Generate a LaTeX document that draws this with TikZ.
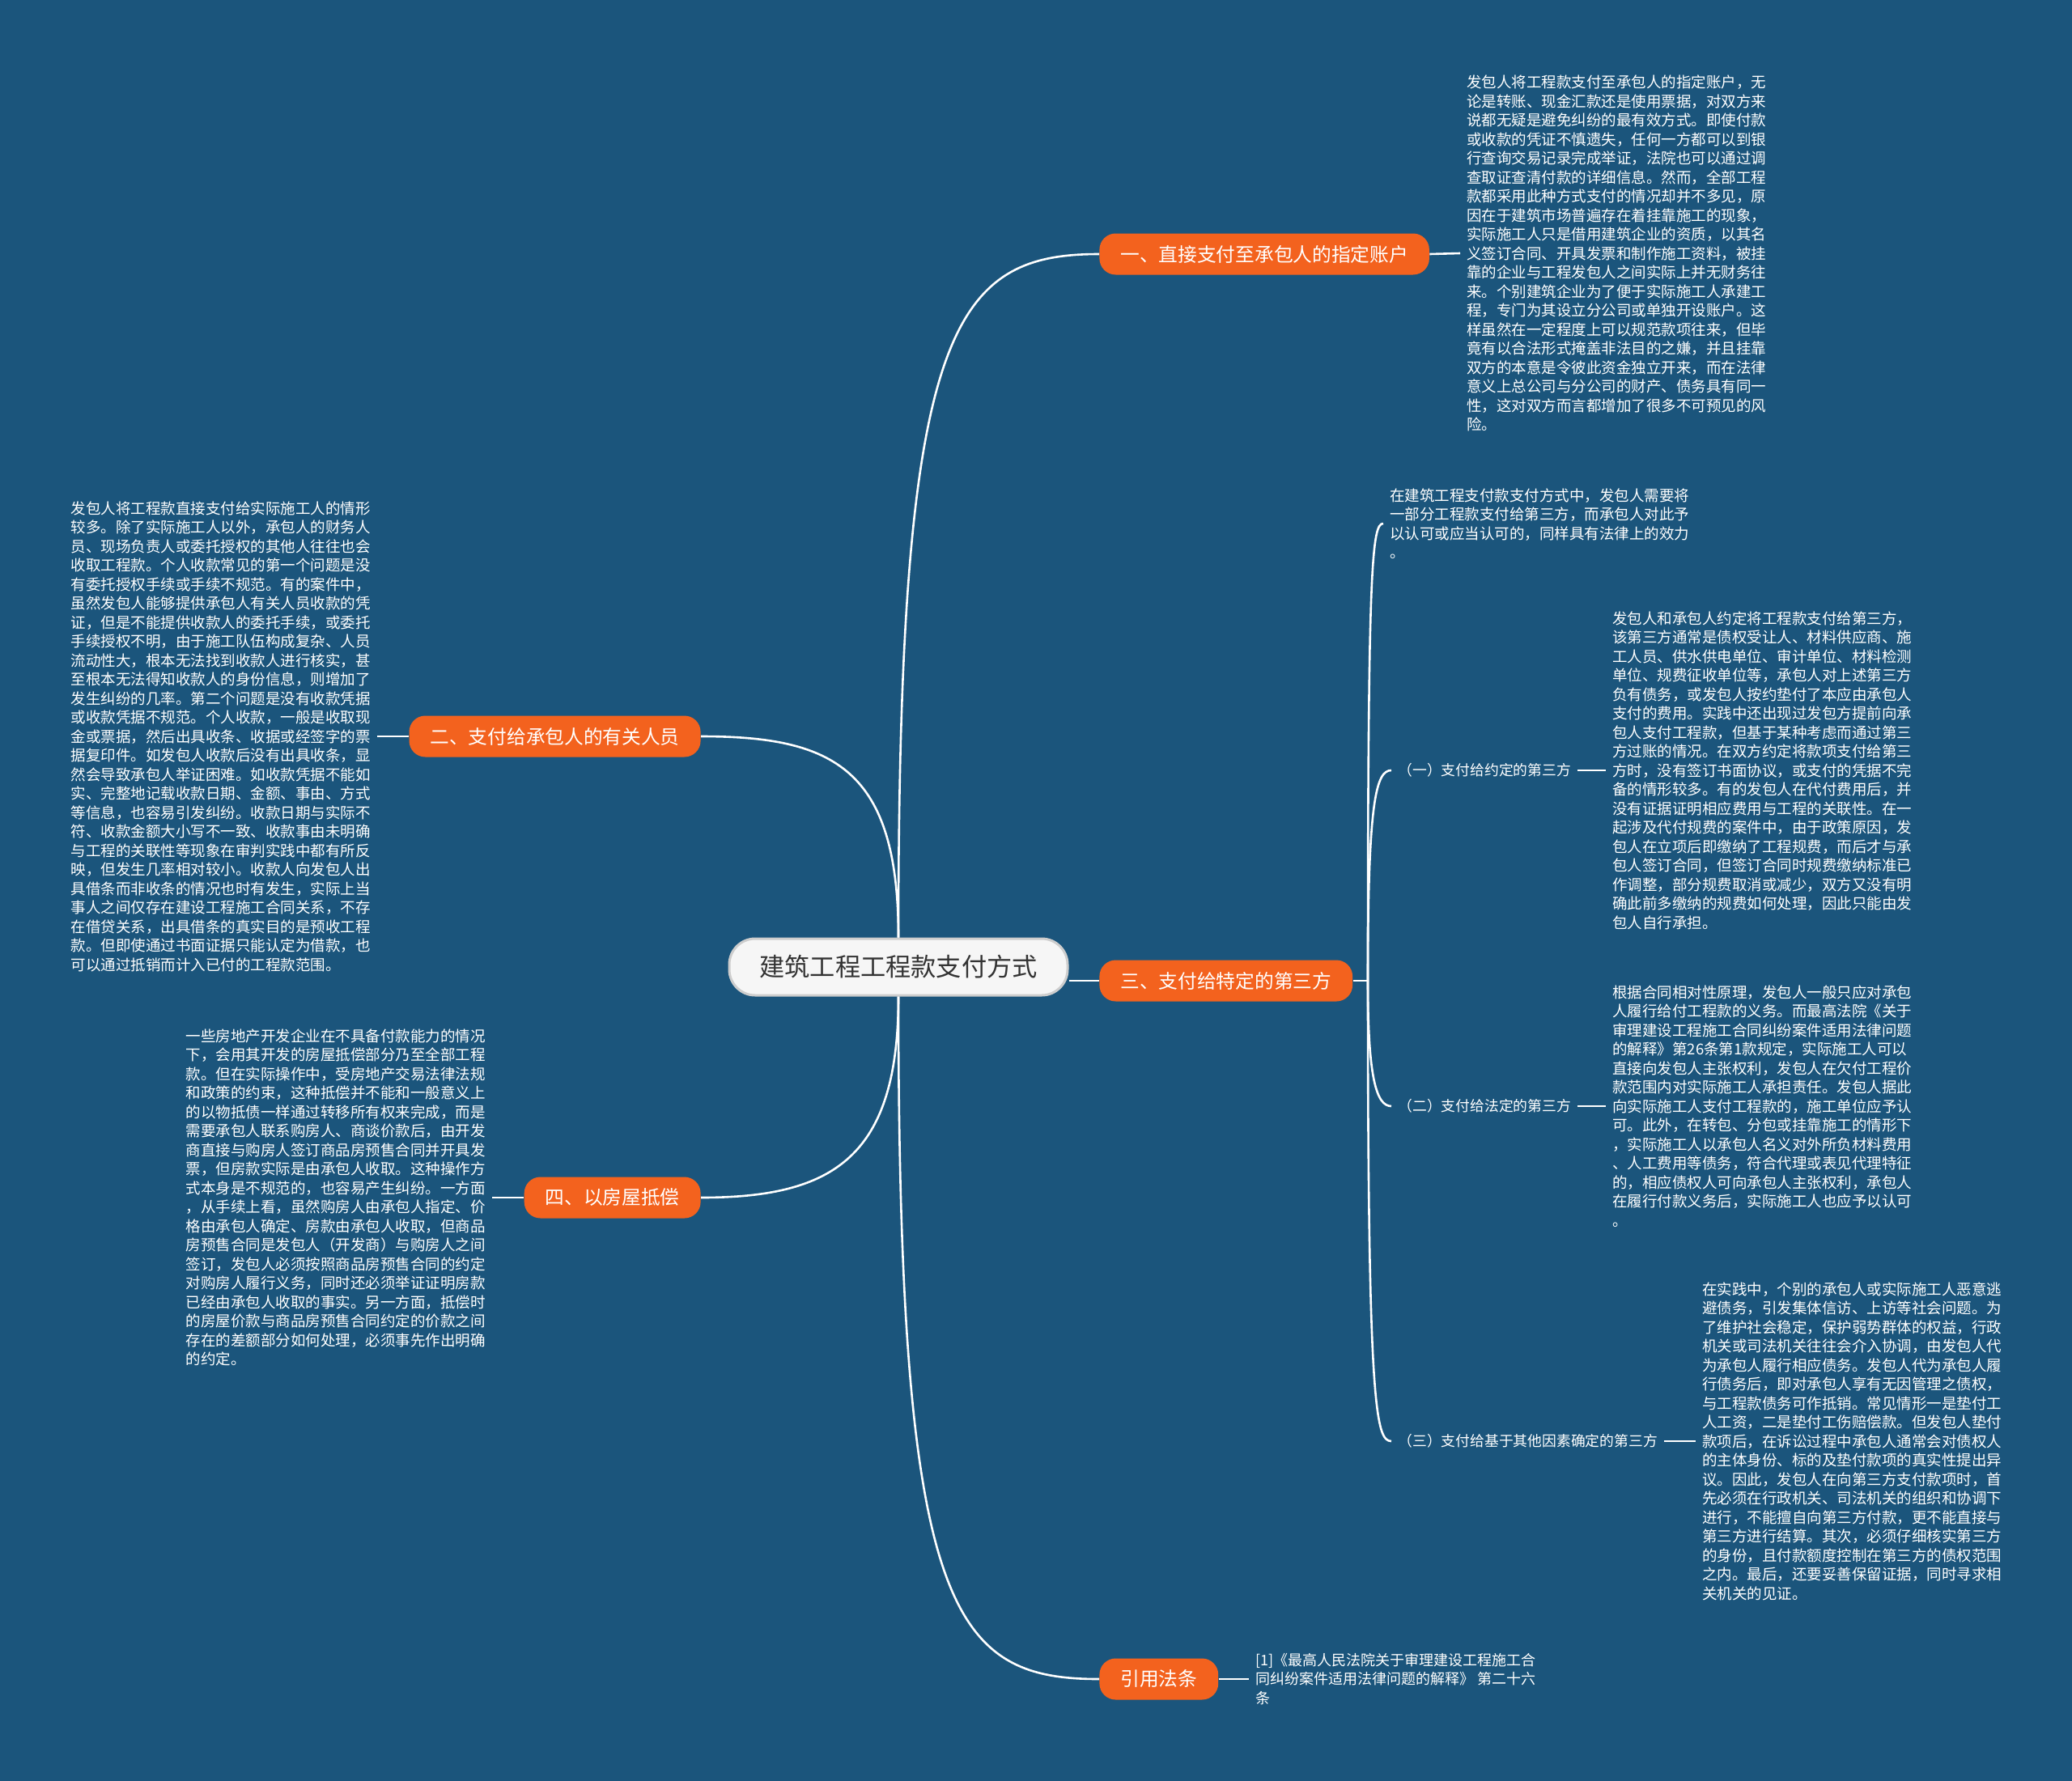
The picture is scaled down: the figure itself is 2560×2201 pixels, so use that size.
\documentclass[tikz,border=0pt]{standalone}
\usepackage{fontspec}
\setmainfont{Noto Sans CJK SC}
\usetikzlibrary{calc}

\definecolor{mapblue}{RGB}{27,85,124}
\definecolor{maporange}{RGB}{243,98,30}
\definecolor{rootfill}{RGB}{246,246,246}
\definecolor{rootline}{RGB}{205,205,205}
\definecolor{roottext}{RGB}{51,51,51}

\tikzset{
  root/.style={draw=rootline, line width=1.5pt, fill=rootfill, rounded corners=16pt,
    minimum width=209pt, minimum height=35pt, text=roottext,
    font=\fontsize{15.6}{18}\selectfont},
  branch/.style={fill=maporange, rounded corners=10pt, minimum height=25.5pt,
    inner xsep=13pt, inner ysep=0pt, text=white, font=\fontsize{11.85}{14}\selectfont},
  leaf/.style={text=white, align=left, inner sep=4pt,
    font=\fontsize{9.25}{11.75}\selectfont},
  sublabel/.style={text=white, inner sep=4pt, font=\fontsize{8.9}{11}\selectfont},
  link/.style={draw=white, line width=1.3pt},
}

\begin{document}
\begin{tikzpicture}[x=0.5pt, y=-0.5pt]
    \def\midx{1110}
    \def\rightx{1358}
    \def\leftx{866}

    \fill[mapblue] (0,0) rectangle (2560,2201);

    \node[root] (root) at (\midx, 1195) {建筑工程工程款支付方式};

    \node[branch, anchor=west] (direct) at (\rightx, 314) {一、直接支付至承包人的指定账户};
    \node[branch, anchor=east] (staff) at (\leftx, 910) {二、支付给承包人的有关人员};
    \node[branch, anchor=west] (third) at (\rightx, 1212) {三、支付给特定的第三方};
    \node[branch, anchor=east] (house) at (\leftx, 1480) {四、以房屋抵偿};
    \node[branch, anchor=west] (cite) at (\rightx, 2075) {引用法条};

    \node[leaf, anchor=west] (directtxt) at (1804, 313) {发包人将工程款支付至承包人的指定账户，无\\
论是转账、现金汇款还是使用票据，对双方来\\
说都无疑是避免纠纷的最有效方式。即使付款\\
或收款的凭证不慎遗失，任何一方都可以到银\\
行查询交易记录完成举证，法院也可以通过调\\
查取证查清付款的详细信息。然而，全部工程\\
款都采用此种方式支付的情况却并不多见，原\\
因在于建筑市场普遍存在着挂靠施工的现象，\\
实际施工人只是借用建筑企业的资质，以其名\\
义签订合同、开具发票和制作施工资料，被挂\\
靠的企业与工程发包人之间实际上并无财务往\\
来。个别建筑企业为了便于实际施工人承建工\\
程，专门为其设立分公司或单独开设账户。这\\
样虽然在一定程度上可以规范款项往来，但毕\\
竟有以合法形式掩盖非法目的之嫌，并且挂靠\\
双方的本意是令彼此资金独立开来，而在法律\\
意义上总公司与分公司的财产、债务具有同一\\
性，这对双方而言都增加了很多不可预见的风\\
险。};

    \node[leaf, anchor=east] (stafftxt) at (466, 910) {发包人将工程款直接支付给实际施工人的情形\\
较多。除了实际施工人以外，承包人的财务人\\
员、现场负责人或委托授权的其他人往往也会\\
收取工程款。个人收款常见的第一个问题是没\\
有委托授权手续或手续不规范。有的案件中，\\
虽然发包人能够提供承包人有关人员收款的凭\\
证，但是不能提供收款人的委托手续，或委托\\
手续授权不明，由于施工队伍构成复杂、人员\\
流动性大，根本无法找到收款人进行核实，甚\\
至根本无法得知收款人的身份信息，则增加了\\
发生纠纷的几率。第二个问题是没有收款凭据\\
或收款凭据不规范。个人收款，一般是收取现\\
金或票据，然后出具收条、收据或经签字的票\\
据复印件。如发包人收款后没有出具收条，显\\
然会导致承包人举证困难。如收款凭据不能如\\
实、完整地记载收款日期、金额、事由、方式\\
等信息，也容易引发纠纷。收款日期与实际不\\
符、收款金额大小写不一致、收款事由未明确\\
与工程的关联性等现象在审判实践中都有所反\\
映，但发生几率相对较小。收款人向发包人出\\
具借条而非收条的情况也时有发生，实际上当\\
事人之间仅存在建设工程施工合同关系，不存\\
在借贷关系，出具借条的真实目的是预收工程\\
款。但即使通过书面证据只能认定为借款，也\\
可以通过抵销而计入已付的工程款范围。};

    \node[leaf, anchor=east] (housetxt) at (608, 1480) {一些房地产开发企业在不具备付款能力的情况\\
下，会用其开发的房屋抵偿部分乃至全部工程\\
款。但在实际操作中，受房地产交易法律法规\\
和政策的约束，这种抵偿并不能和一般意义上\\
的以物抵债一样通过转移所有权来完成，而是\\
需要承包人联系购房人、商谈价款后，由开发\\
商直接与购房人签订商品房预售合同并开具发\\
票，但房款实际是由承包人收取。这种操作方\\
式本身是不规范的，也容易产生纠纷。一方面\\
，从手续上看，虽然购房人由承包人指定、价\\
格由承包人确定、房款由承包人收取，但商品\\
房预售合同是发包人（开发商）与购房人之间\\
签订，发包人必须按照商品房预售合同的约定\\
对购房人履行义务，同时还必须举证证明房款\\
已经由承包人收取的事实。另一方面，抵偿时\\
的房屋价款与商品房预售合同约定的价款之间\\
存在的差额部分如何处理，必须事先作出明确\\
的约定。};

    \node[leaf, anchor=west, font=\fontsize{9}{11.75}\selectfont] (citetxt) at (1543, 2075) {[1]《最高人民法院关于审理建设工程施工合\\
同纠纷案件适用法律问题的解释》 第二十六\\
条};

    % third party sub tree
    \coordinate (fork) at (1690, 1212);
    \node[leaf, anchor=west] (thirdtxt) at (1709, 647) {在建筑工程支付款支付方式中，发包人需要将\\
一部分工程款支付给第三方，而承包人对此予\\
以认可或应当认可的，同样具有法律上的效力\\
。};
    \node[sublabel, anchor=west] (agreed) at (1719, 952) {（一）支付给约定的第三方};
    \node[sublabel, anchor=west] (legal) at (1719, 1367) {（二）支付给法定的第三方};
    \node[sublabel, anchor=west] (other) at (1719, 1781) {（三）支付给基于其他因素确定的第三方};

    \node[leaf, anchor=west] (agreedtxt) at (1984, 952) {发包人和承包人约定将工程款支付给第三方，\\
该第三方通常是债权受让人、材料供应商、施\\
工人员、供水供电单位、审计单位、材料检测\\
单位、规费征收单位等，承包人对上述第三方\\
负有债务，或发包人按约垫付了本应由承包人\\
支付的费用。实践中还出现过发包方提前向承\\
包人支付工程款，但基于某种考虑而通过第三\\
方过账的情况。在双方约定将款项支付给第三\\
方时，没有签订书面协议，或支付的凭据不完\\
备的情形较多。有的发包人在代付费用后，并\\
没有证据证明相应费用与工程的关联性。在一\\
起涉及代付规费的案件中，由于政策原因，发\\
包人在立项后即缴纳了工程规费，而后才与承\\
包人签订合同，但签订合同时规费缴纳标准已\\
作调整，部分规费取消或减少，双方又没有明\\
确此前多缴纳的规费如何处理，因此只能由发\\
包人自行承担。};

    \node[leaf, anchor=west] (legaltxt) at (1984, 1367) {根据合同相对性原理，发包人一般只应对承包\\
人履行给付工程款的义务。而最高法院《关于\\
审理建设工程施工合同纠纷案件适用法律问题\\
的解释》第26条第1款规定，实际施工人可以\\
直接向发包人主张权利，发包人在欠付工程价\\
款范围内对实际施工人承担责任。发包人据此\\
向实际施工人支付工程款的，施工单位应予认\\
可。此外，在转包、分包或挂靠施工的情形下\\
，实际施工人以承包人名义对外所负材料费用\\
、人工费用等债务，符合代理或表见代理特征\\
的，相应债权人可向承包人主张权利，承包人\\
在履行付款义务后，实际施工人也应予以认可\\
。};

    \node[leaf, anchor=west] (othertxt) at (2095, 1781) {在实践中，个别的承包人或实际施工人恶意逃\\
避债务，引发集体信访、上访等社会问题。为\\
了维护社会稳定，保护弱势群体的权益，行政\\
机关或司法机关往往会介入协调，由发包人代\\
为承包人履行相应债务。发包人代为承包人履\\
行债务后，即对承包人享有无因管理之债权，\\
与工程款债务可作抵销。常见情形一是垫付工\\
人工资，二是垫付工伤赔偿款。但发包人垫付\\
款项后，在诉讼过程中承包人通常会对债权人\\
的主体身份、标的及垫付款项的真实性提出异\\
议。因此，发包人在向第三方支付款项时，首\\
先必须在行政机关、司法机关的组织和协调下\\
进行，不能擅自向第三方付款，更不能直接与\\
第三方进行结算。其次，必须仔细核实第三方\\
的身份，且付款额度控制在第三方的债权范围\\
之内。最后，还要妥善保留证据，同时寻求相\\
关机关的见证。};

    % connectors
    \draw[link] (root.north) .. controls (\midx, 408) and (1175, 314) .. (direct.west);
    \draw[link] (root.north) .. controls (\midx, 950) and (1030, 910) .. (staff.east);
    \draw[link] (third.west -| root.east) -- (third.west);
    \draw[link] (root.south) .. controls (\midx, 1430) and (1030, 1480) .. (house.east);
    \draw[link] (root.south) .. controls (\midx, 1990) and (1175, 2075) .. (cite.west);

    \draw[link] (direct.east) -- (directtxt.west);
    \draw[link] (staff.west) -- (stafftxt.east);
    \draw[link] (house.west) -- (housetxt.east);
    \draw[link] (cite.east) -- (citetxt.west);

    \draw[link] (third.east) -- (fork);
    \draw[link] (fork) .. controls (1690, 700) and (1695, 647) .. (thirdtxt.west);
    \draw[link] (fork) .. controls (1690, 990) and (1700, 952) .. (agreed.west);
    \draw[link] (fork) .. controls (1690, 1330) and (1700, 1367) .. (legal.west);
    \draw[link] (fork) .. controls (1690, 1740) and (1700, 1781) .. (other.west);
    \draw[link] (agreed.east) -- (agreedtxt.west);
    \draw[link] (legal.east) -- (legaltxt.west);
    \draw[link] (other.east) -- (othertxt.west);
\end{tikzpicture}
\end{document}
